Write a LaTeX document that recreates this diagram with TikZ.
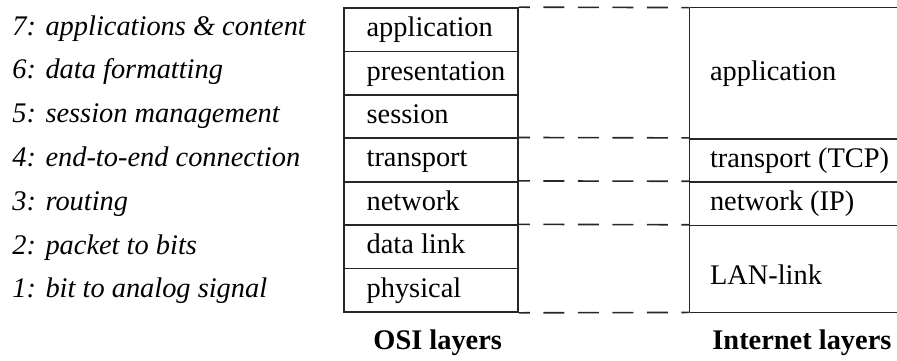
\documentclass[tikz,border=0pt]{standalone}
\usepackage{fontspec}
\setmainfont{Liberation Serif}
\usetikzlibrary{positioning}

\begin{document}
\begin{tikzpicture}[x=0.5pt,y=-0.5pt]
	\tikzstyle{rule} = [draw=black!85,line width=0.8pt]
	\tikzstyle{osibox} = [rule,minimum width=87pt,minimum height=21.72pt,inner sep=0pt]
	\tikzstyle{inetbox} = [minimum width=103.5pt,inner sep=0pt]
	\tikzstyle{layertext} = [font=\fontsize{14.2}{17}\selectfont,text height=10pt,text depth=3pt,inner sep=0pt,anchor=west]
	\tikzstyle{roletext} = [layertext,font=\fontsize{14.2}{17}\selectfont\itshape]
	\tikzstyle{titletext} = [layertext,font=\fontsize{14.2}{17}\selectfont\bfseries]
	\tikzstyle{dashline} = [rule,dash pattern=on 10.5pt off 6.75pt,dash phase=5pt]
	\useasboundingbox (0,0) rectangle (897,360);
	% what each layer does
	\foreach \role [count=\k from 0] in {7: applications \& content,6: data formatting,5: session management,4: end-to-end connection,3: routing,2: packet to bits,1: bit to analog signal}
		\node[roletext] (role\k) at (12, 28+\k*43.8) {\role};
	% OSI stack
	\foreach \name [count=\k from 0] in {application,presentation,session,transport,network,data link,physical} {
		\node[osibox] (osi\k) at (431, 29.7+\k*43.43) {};
		\node[layertext, right=11.5pt of osi\k.west] (ositxt\k) {\name};
	}
	% Internet stack
	\node[inetbox,minimum height=65.15pt] (inapp) at (793.5, 73.15) {};
	\node[inetbox,minimum height=21.72pt] (intcp) at (793.5, 160) {};
	\node[inetbox,minimum height=21.72pt] (inip) at (793.5, 203.4) {};
	\node[inetbox,minimum height=43.43pt] (inlan) at (793.5, 268.6) {};
	\draw[rule] (inapp.north west) -- (inapp.north east);
	\foreach \n in {inapp,intcp,inip,inlan}
		\draw[rule] (\n.south west) -- (\n.south east);
	\draw[rule] (inapp.north west) -- (inlan.south west);
	\node[layertext, right=10pt of inapp.west] (inapptxt) {application};
	\node[layertext, right=10pt of intcp.west] (intcptxt) {transport (TCP)};
	\node[layertext, right=10pt of inip.west] (iniptxt) {network (IP)};
	\node[layertext, right=10pt of inlan.west, yshift=-4.5pt] (inlantxt) {LAN-link};
	% matching layer borders
	\foreach \a/\b in {osi0.north east/inapp.north west,osi3.north east/intcp.north west,osi4.north east/inip.north west,osi5.north east/inlan.north west,osi6.south east/inlan.south west}
		\draw[dashline] (\a) -- (\b);
	% captions
	\node[titletext] (osititle) at (373, 342) {OSI layers};
	\node[titletext] (inettitle) at (712, 342) {Internet layers};
\end{tikzpicture}
\end{document}
